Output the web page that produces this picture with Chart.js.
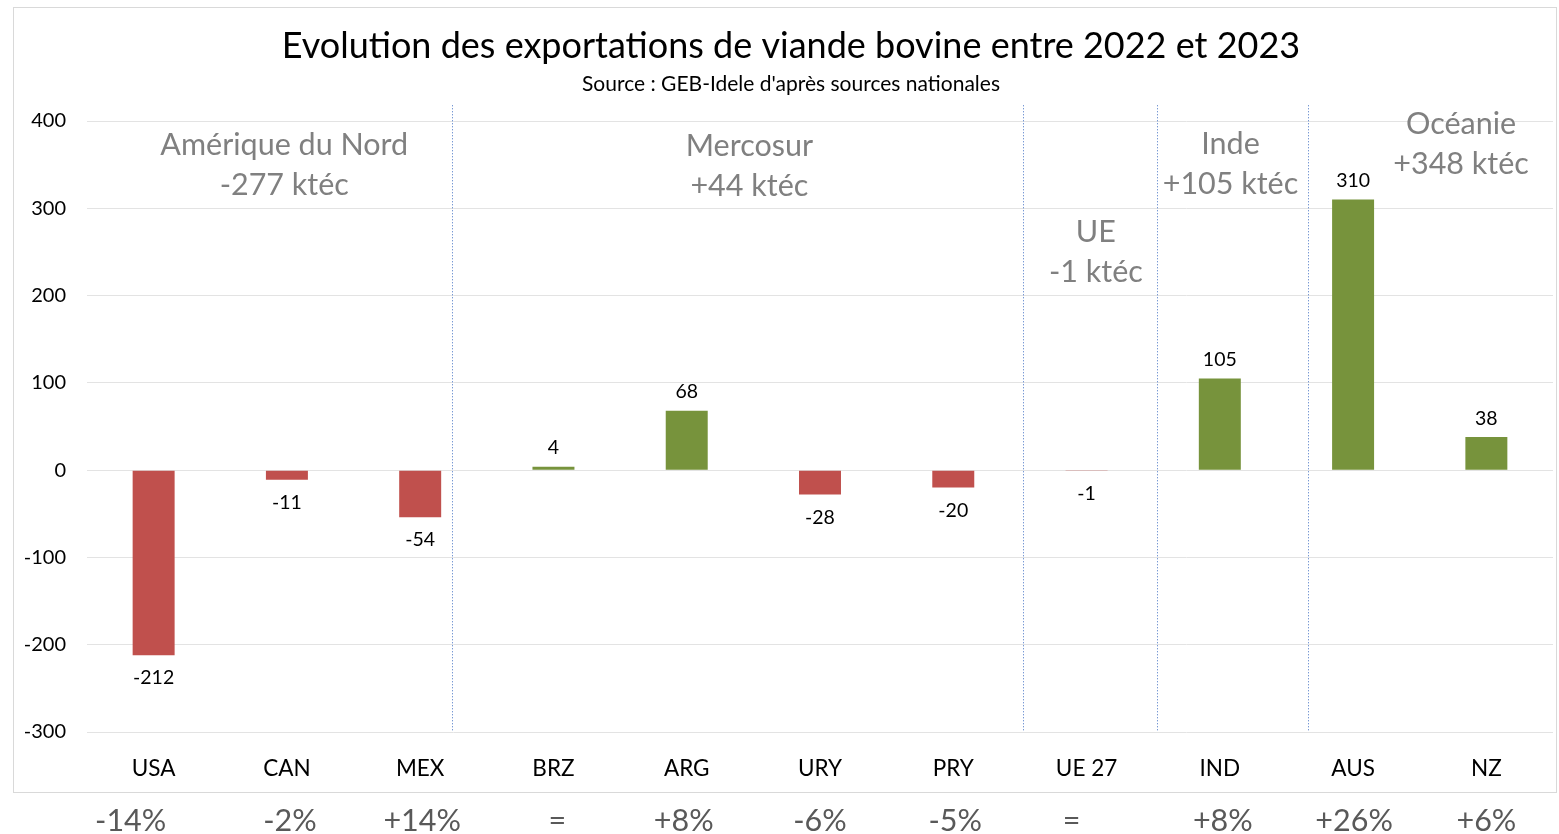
<!DOCTYPE html>
<html>
<head>
<meta charset="utf-8">
<title>Evolution des exportations de viande bovine</title>
<script src="https://cdn.jsdelivr.net/npm/chart.js@4.4.1/dist/chart.umd.min.js"></script>
<style>
  html, body { margin: 0; padding: 0; background: #ffffff; }
  #wrap { width: 1559px; height: 834px; }
</style>
</head>
<body>
<div id="wrap"><canvas id="chart"></canvas></div>
<script>
// Data
const countries = ["USA", "CAN", "MEX", "BRZ", "ARG", "URY", "PRY", "UE 27", "IND", "AUS", "NZ"];
const variations = [-212, -11, -54, 4, 68, -28, -20, -1, 105, 310, 38];
const percentChange = ["-14%", "-2%", "+14%", "=", "+8%", "-6%", "-5%", "=", "+8%", "+26%", "+6%"];
const yTicks = [-300, -200, -100, 0, 100, 200, 300, 400];

const titleText = "Evolution des exportations de viande bovine entre 2022 et 2023";
const subtitleText = "Source : GEB-Idele d'après sources nationales";

const groupNames = ["Amérique du Nord", "Mercosur", "UE", "Inde", "Océanie"];
const groupTotals = ["-277 ktéc", "+44 ktéc", "-1 ktéc", "+105 ktéc", "+348 ktéc"];

// where the group labels and separators sit (category index / value units)
const groupLabelPos = [[0.98, 372], [4.47, 371], [7.07, 273], [8.08, 373], [9.81, 396]];
const separatorPos = [2.24, 6.52, 7.53, 8.66];
// small horizontal shifts (px) of the percentage text boxes
const percentShift = [-23, 3, 2, 4, -3, 0, 2, -15, 3, 1, 0];

const RED = "#c0504d";
const GREEN = "#77933c";
const FONT = "Lato, 'Open Sans', sans-serif";

const barColors = variations.map(v => v < 0 ? RED : GREEN);

// Draw the outer frame, titles, separators, group labels, value labels and percentages
const decorPlugin = {
  id: "decor",
  beforeDraw(chart) {
    const ctx = chart.ctx;
    ctx.save();
    ctx.strokeStyle = "#d9d9d9";
    ctx.lineWidth = 1;
    ctx.strokeRect(13.5, 7.5, 1543, 785);

    ctx.fillStyle = "#000000";
    ctx.textAlign = "center";
    ctx.textBaseline = "middle";
    ctx.font = "36px " + FONT;
    ctx.fillText(titleText, 791, 46);
    ctx.font = "21px " + FONT;
    ctx.fillText(subtitleText, 791, 84);
    ctx.restore();
  },
  afterDatasetsDraw(chart) {
    const ctx = chart.ctx;
    const xs = chart.scales.x;
    const ys = chart.scales.y;
    const step = xs.getPixelForValue(1) - xs.getPixelForValue(0);
    const x0 = xs.getPixelForValue(0);

    // dotted separators
    ctx.save();
    ctx.strokeStyle = "#4472c4";
    ctx.lineWidth = 1;
    ctx.setLineDash([1, 2]);
    separatorPos.forEach(p => {
      const x = Math.round(x0 + p * step) + 0.5;
      ctx.beginPath();
      ctx.moveTo(x, ys.getPixelForValue(418));
      ctx.lineTo(x, ys.getPixelForValue(-300));
      ctx.stroke();
    });
    ctx.restore();

    // group labels
    ctx.save();
    ctx.fillStyle = "#808080";
    ctx.font = "30.5px " + FONT;
    ctx.textAlign = "center";
    ctx.textBaseline = "middle";
    groupNames.forEach((name, i) => {
      const [gx, gy] = groupLabelPos[i];
      const x = x0 + gx * step;
      const y = ys.getPixelForValue(gy);
      ctx.fillText(name, x, y);
      ctx.fillText(groupTotals[i], x, y + 40);
    });
    ctx.restore();

    // value labels
    ctx.save();
    ctx.fillStyle = "#000000";
    ctx.font = "19.5px " + FONT;
    ctx.textAlign = "center";
    const meta = chart.getDatasetMeta(0);
    meta.data.forEach((bar, i) => {
      const v = variations[i];
      if (v >= 0) {
        ctx.textBaseline = "bottom";
        ctx.fillText(String(v), bar.x, bar.y - 9);
      } else {
        ctx.textBaseline = "top";
        ctx.fillText(String(v), bar.x, bar.y + 13);
      }
    });

    // percentages under the frame
    ctx.fillStyle = "#595959";
    ctx.font = "30.5px " + FONT;
    ctx.textBaseline = "middle";
    percentChange.forEach((p, i) => {
      ctx.fillText(p, xs.getPixelForValue(i) + percentShift[i], 821);
    });
    ctx.restore();
  }
};

const ctx = document.getElementById("chart").getContext("2d");
const chart = new Chart(ctx, {
  type: "bar",
  data: {
    labels: countries,
    datasets: [{
      data: variations,
      backgroundColor: barColors,
      borderWidth: 0,
      categoryPercentage: 1,
      barPercentage: 0.315
    }]
  },
  options: {
    responsive: true,
    maintainAspectRatio: false,
    animation: false,
    layout: { padding: { left: 0, right: 6, top: 121, bottom: 42 } },
    plugins: {
      legend: { display: false },
      tooltip: { enabled: false },
      title: { display: false }
    },
    scales: {
      x: {
        grid: { display: false, drawTicks: false },
        border: { display: false },
        ticks: { color: "#000000", font: { family: FONT, size: 22.5 }, padding: 23 },
        afterFit: s => { s.height = 60; }
      },
      y: {
        min: -300,
        max: 400,
        afterBuildTicks: s => { s.ticks = yTicks.map(v => ({ value: v })); },
        grid: { color: "#e3e3e3", drawTicks: false },
        border: { display: false },
        ticks: { color: "#000000", font: { family: FONT, size: 20 }, padding: 21 },
        afterFit: s => { s.width = 87; }
      }
    }
  },
  plugins: [decorPlugin]
});
</script>
</body>
</html>
